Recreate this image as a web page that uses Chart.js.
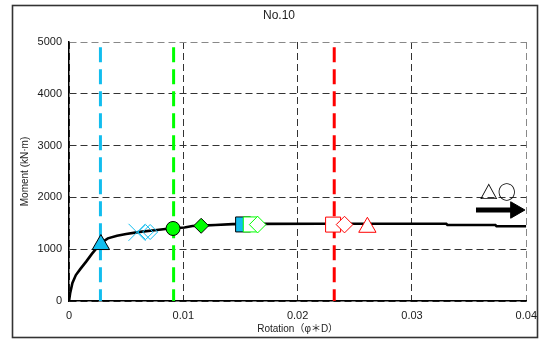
<!DOCTYPE html>
<html>
<head>
<meta charset="utf-8">
<script src="https://cdn.jsdelivr.net/npm/chart.js@4/dist/chart.umd.min.js"></script>
<style>
  html, body { margin: 0; padding: 0; background: #fff; }
  #wrap { width: 545px; height: 340px; position: relative; }
</style>
</head>
<body>
<div id="wrap"><canvas id="c" width="545" height="340"></canvas></div>
<script>
// ---- data ----
const chartTitle = 'No.10';
const xTitle = 'Rotation（φ＊D）';
const yTitle = 'Moment (kN·m)';
const xTickLabels = ['0', '0.01', '0.02', '0.03', '0.04'];
const yTickLabels = ['0', '1000', '2000', '3000', '4000', '5000'];

// moment-rotation curve
const curveRot = [0, 0.0001, 0.0003, 0.0006, 0.001, 0.0015, 0.002, 0.0024, 0.0028, 0.0034, 0.0042, 0.005, 0.0062, 0.0075, 0.0088, 0.0101, 0.0108, 0.0116, 0.0128, 0.0143, 0.0166, 0.022, 0.033, 0.0331, 0.0373, 0.0374, 0.04];
const curveMom = [0, 150, 350, 500, 620, 760, 910, 1015, 1120, 1210, 1260, 1293, 1335, 1365, 1400, 1420, 1448, 1455, 1467, 1484, 1488, 1490, 1490, 1468, 1466, 1442, 1442];

// vertical limit lines (rotation), cyan / green / red
const limitRot = [0.00275, 0.00915, 0.0232];
const limitTop = 4900;

// markers
const mkCyanTriRot = [0.00279];   const mkCyanTriMom = [1090];
const mkCyanXRot = [0.00595];     const mkCyanXMom = [1326];
const mkCyanDiaRot = [0.0067, 0.0071]; const mkCyanDiaMom = [1330, 1332];
const mkGreenCirRot = [0.0091];   const mkGreenCirMom = [1400];
const mkGreenDiaRot = [0.01156];  const mkGreenDiaMom = [1452];
const mkCyanSqRot = [0.01523];    const mkCyanSqMom = [1478];
const mkGreenSqRot = [0.0159];    const mkGreenSqMom = [1478];
const mkGreenODiaRot = [0.0165];  const mkGreenODiaMom = [1475];
const mkRedSqRot = [0.0231];      const mkRedSqMom = [1475];
const mkRedDiaRot = [0.0241];     const mkRedDiaMom = [1475];
const mkRedTriRot = [0.0261];     const mkRedTriMom = [1423];

// annotation: arrow and symbols
const arrowRot = [0.0356, 0.03905];
const arrowMom = [1757, 1757];
const symbolText = '△○';
const symbolRot = 0.0375;
const symbolMom = 2110;

// ---- helpers ----
const CYAN = '#12BDEE', GREEN = '#00FF00', RED = '#FF0000';
const pts = (xs, ys) => xs.map((x, i) => ({x: x, y: ys[i]}));
const FONT = "'Liberation Sans', Arial, 'Noto Sans CJK JP', sans-serif";

function marker(xs, ys, style, r, fill, stroke, order, bw) {
  return {
    data: pts(xs, ys), showLine: false, pointStyle: style, pointRadius: r,
    pointBackgroundColor: fill, pointBorderColor: stroke, pointBorderWidth: bw || 1,
    order: order
  };
}

const datasets = [];
// vertical lines
const limitColors = [CYAN, GREEN, RED];
limitRot.forEach((r, i) => {
  datasets.push({
    data: [{x: r, y: limitTop}, {x: r, y: 0}], showLine: true, pointRadius: 0,
    borderColor: limitColors[i], borderWidth: 3, borderDash: [15, 7], order: 30
  });
});
// curve
datasets.push({
  data: pts(curveRot, curveMom), showLine: true, pointRadius: 0,
  borderColor: '#000', borderWidth: 2.6, tension: 0, order: 20
});
// markers
datasets.push(marker(mkCyanTriRot, mkCyanTriMom, 'triangle', 10, CYAN, '#000', 12));
datasets.push(marker(mkCyanXRot, mkCyanXMom, 'crossRot', 12, 'rgba(0,0,0,0)', CYAN, 11));
datasets.push(marker(mkCyanDiaRot, mkCyanDiaMom, 'rectRot', 7.5, 'rgba(0,0,0,0)', CYAN, 10));
datasets.push(marker(mkGreenCirRot, mkGreenCirMom, 'circle', 7, GREEN, '#000', 9));
datasets.push(marker(mkGreenDiaRot, mkGreenDiaMom, 'rectRot', 7.5, GREEN, '#000', 8));
datasets.push(marker(mkCyanSqRot, mkCyanSqMom, 'rect', 10.6, CYAN, '#000', 7));
datasets.push(marker(mkGreenSqRot, mkGreenSqMom, 'rect', 10.6, '#fff', GREEN, 6));
datasets.push(marker(mkGreenODiaRot, mkGreenODiaMom, 'rectRot', 8.3, '#fff', GREEN, 5));
datasets.push(marker(mkRedSqRot, mkRedSqMom, 'rect', 10.6, '#fff', RED, 4));
datasets.push(marker(mkRedDiaRot, mkRedDiaMom, 'rectRot', 8.3, '#fff', RED, 3));
datasets.push(marker(mkRedTriRot, mkRedTriMom, 'triangle', 10, '#fff', RED, 2));
// arrow
datasets.push({
  data: pts(arrowRot, arrowMom), showLine: true, borderColor: '#000', borderWidth: 5,
  pointRadius: [0, 9.5], pointStyle: 'triangle', rotation: 90,
  pointBackgroundColor: '#000', pointBorderColor: '#000', pointBorderWidth: 1, order: 1
});

const decor = {
  id: 'decor',
  afterDraw(chart) {
    const ctx = chart.ctx;
    ctx.save();
    // outer frame
    ctx.strokeStyle = '#333';
    ctx.lineWidth = 1.6;
    ctx.strokeRect(12.5, 5.5, 525, 332);
    // title
    ctx.fillStyle = '#222';
    ctx.font = '12px ' + FONT;
    ctx.textAlign = 'center';
    ctx.textBaseline = 'middle';
    ctx.fillText(chartTitle, 279, 16);
    // symbols above the arrow
    const xs = chart.scales.x, ys = chart.scales.y;
    ctx.fillStyle = '#000';
    ctx.font = "bold 18px 'Noto Sans CJK JP', 'DejaVu Sans', sans-serif";
    ctx.fillText(symbolText, xs.getPixelForValue(symbolRot), ys.getPixelForValue(symbolMom));
    ctx.restore();
  }
};

new Chart(document.getElementById('c'), {
  type: 'scatter',
  data: { datasets: datasets },
  options: {
    responsive: false, animation: false,
    layout: { padding: { left: 0, right: 17, top: 42, bottom: 0 } },
    plugins: { legend: { display: false }, tooltip: { enabled: false }, title: { display: false } },
    elements: { line: { borderCapStyle: 'butt' } },
    scales: {
      x: {
        type: 'linear', min: 0, max: 0.04,
        afterFit: s => { s.height = 39; },
        afterBuildTicks: s => { s.ticks = xTickLabels.map(v => ({value: parseFloat(v)})); },
        ticks: {
          padding: 8, color: '#1a1a1a', font: { family: FONT, size: 11 },
          maxRotation: 0, autoSkip: false,
          callback: (v, i) => xTickLabels[i]
        },
        grid: {
          drawTicks: false, lineWidth: 1,
          color: c => c.index === xTickLabels.length - 1 ? '#888' : '#333'
        },
        border: { display: true, color: '#000', width: 1.5, dash: [7, 4] },
        title: { display: true, text: xTitle, color: '#222', font: { family: FONT, size: 10 }, padding: { top: 0, bottom: 5 } }
      },
      y: {
        type: 'linear', min: 0, max: 5000,
        afterFit: s => { s.width = 69; },
        afterBuildTicks: s => { s.ticks = yTickLabels.map(v => ({value: parseFloat(v)})); },
        ticks: {
          padding: 7, color: '#1a1a1a', font: { family: FONT, size: 11 },
          callback: (v, i) => yTickLabels[i]
        },
        grid: {
          drawTicks: false, lineWidth: 1,
          color: c => c.index === yTickLabels.length - 1 ? '#888' : '#333'
        },
        border: { display: true, color: '#000', width: 1.5, dash: [7, 4] },
        title: { display: true, text: yTitle, color: '#222', font: { family: FONT, size: 10 }, padding: { top: 19, bottom: 0 } }
      }
    }
  },
  plugins: [decor]
});
</script>
</body>
</html>
